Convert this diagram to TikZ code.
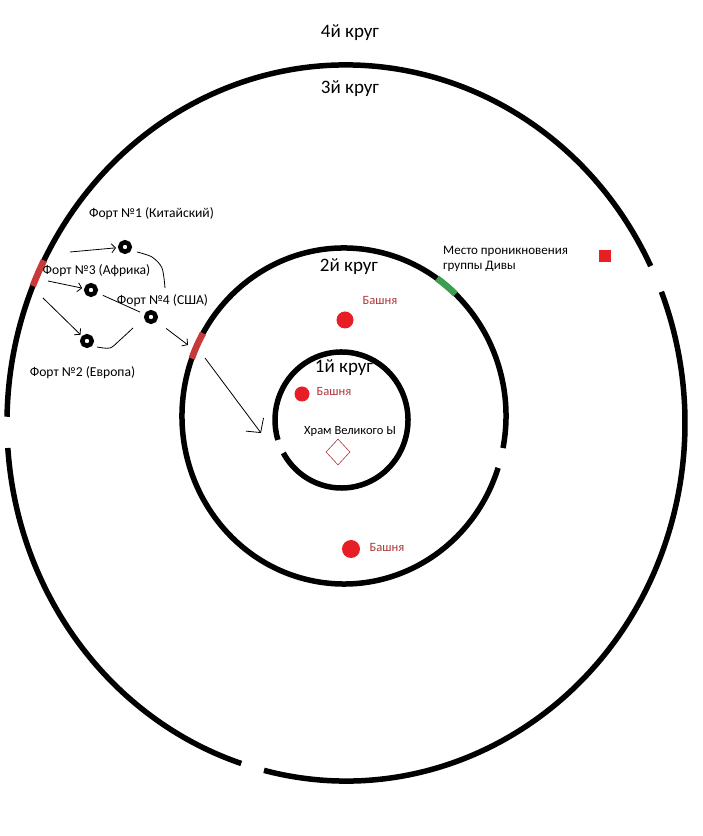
\documentclass[tikz,border=0pt]{standalone}
\usepackage{fontspec}
\setmainfont{Carlito}
\usetikzlibrary{calc,arrows.meta,shapes.geometric}
\definecolor{towerred}{RGB}{232,30,38}
\definecolor{towertext}{RGB}{176,56,60}
\definecolor{breachred}{RGB}{200,58,58}
\definecolor{divagreen}{RGB}{58,158,78}
\def\ringarc[#1](#2)(#3:#4:#5:#6){\draw[#1] ($(#2)+({#5*cos(#3)},{#6*sin(#3)})$) arc[start angle=#3,end angle=#4,x radius=#5,y radius=#6];}

\tikzset{
	ring/.style={line width=5.5pt},
	mark ring/.style={line width=6.5pt},
	fort/.style={circle,draw=black,line width=4.5pt,fill=white,minimum size=9.5pt,inner sep=0pt},
	fortlabel/.style={font=\fontsize{13.6}{15}\selectfont},
	circlelabel/.style={font=\fontsize{19}{22}\selectfont},
	towerlabel/.style={font=\fontsize{12.6}{14}\selectfont,text=towertext},
	tower/.style={circle,fill=towerred,inner sep=0pt},
	sketch/.style={line width=0.8pt},
	arr/.style={sketch,-{Straight Barb[length=4pt,width=9pt]}},
}

\begin{document}
\begin{tikzpicture}[x=1pt,y=1pt]
			%%%%% START %%%%%
			\fill[white] (0,0) rectangle (703,836);
			\useasboundingbox (0,0) rectangle (703,836);
			
			% rings
			\coordinate (c3) at (346,413);
			\coordinate (c2) at (344,420);
			\coordinate (c1) at (341.5,416);
			\ringarc[ring](c3)(26:179:339:358)
			\ringarc[ring](c3)(184:252:339:358)
			\ringarc[ring](c3)(256:381.5:339:358)
			\ringarc[ring](c2)(-11:342:162:168)
			\ringarc[ring](c1)(209:557:66.5:68)
			
			% breach marks
			\ringarc[mark ring,breachred](c3)(153:157.5:339:358)
			\ringarc[mark ring,breachred](c2)(150.5:160:162:168)
			\ringarc[mark ring,divagreen](c2)(46.5:55:162:168)
			
			% ring titles
			\node[circlelabel] (k4) at (350,803) {4й круг};
			\node[circlelabel] (k3) at (350,747) {3й круг};
			\node[circlelabel] (k2) at (349,569) {2й круг};
			\node[circlelabel] (k1) at (344,468) {1й круг};
			
			% temple and towers
			\node[font=\fontsize{12.5}{14}\selectfont] (temple) at (350,404) {Храм Великого Ы};
			\node[diamond,draw=towertext,line width=0.6pt,minimum width=24pt,minimum height=26pt,inner sep=0pt] (altar) at (338,384) {};
			\node[tower,minimum size=17pt] (t1) at (345,516) {};
			\node[towerlabel] (t1l) at (380,535) {Башня};
			\node[tower,minimum size=15pt] (t2) at (302,442) {};
			\node[towerlabel] (t2l) at (334,444) {Башня};
			\node[tower,minimum size=18pt] (t3) at (351,287) {};
			\node[towerlabel] (t3l) at (387,288) {Башня};
			
			% diva group
			\node[font=\fontsize{13}{14.5}\selectfont,anchor=west,align=left,inner sep=0pt] (diva) at (443,577) {Место проникновения\\группы Дивы};
			\node[fill=towerred,minimum size=12pt,inner sep=0pt] (divasq) at (605,580) {};
			
			% forts
			\node[fort] (f1) at (125,589) {};
			\node[fort] (f3) at (91,546) {};
			\node[fort] (f4) at (151,519) {};
			\node[fort] (f2) at (87,495) {};
			\node[fortlabel] (f1l) at (151.5,622) {Форт №1 (Китайский)};
			\node[fortlabel] (f3l) at (96.5,565) {Форт №3 (Африка)};
			\node[fortlabel] (f4l) at (162.5,535) {Форт №4 (США)};
			\node[fortlabel] (f2l) at (82.5,463) {Форт №2 (Европа)};
			
			% routes
			\coordinate (s1) at (70,584);
			\coordinate (s3) at (48,555);
			\coordinate (s2) at (43,538);
			\coordinate (gate) at (188,491);
			\coordinate (jump) at (205,478);
			\coordinate (inside) at (261,403);
			\draw[arr,shorten >=2pt] (s1) -- (f1);
			\draw[arr,shorten >=2pt] (s3) -- (f3);
			\draw[arr,shorten >=2pt] (s2) -- (f2);
			\draw[arr,shorten <=12pt] (f4) -- (gate);
			\draw[sketch,-{Straight Barb[length=10pt,width=22pt]}] (jump) -- (inside);
			\draw[sketch,shorten <=6pt,shorten >=5pt] (f3) -- (f4);
			\draw[sketch] plot[smooth] coordinates {(137,584) (152,579) (162,568) (165,548)};
			\draw[sketch] plot[smooth] coordinates {(97,489) (110,488) (120,496) (133,508)};
			%%%%% END %%%%%
		\end{tikzpicture}
\end{document}
